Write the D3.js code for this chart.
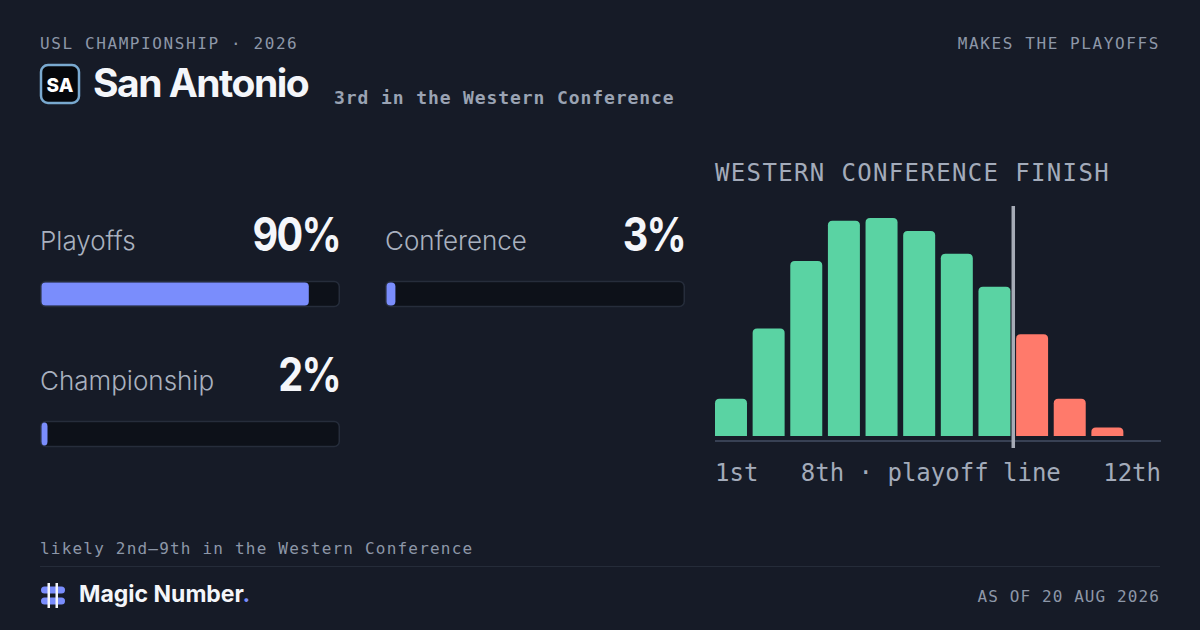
<!DOCTYPE html>
<html>
<head>
<meta charset="utf-8">
<script src="https://cdn.jsdelivr.net/npm/d3@7"></script>
<style>
  html, body { margin: 0; padding: 0; background: #161b27; }
  svg { display: block; }
  .mono { font-family: "DejaVu Sans Mono", "Liberation Mono", monospace; }
  .sans { font-family: Inter, "Noto Sans", sans-serif; }
</style>
</head>
<body>
<svg id="card" width="1200" height="630"></svg>
<script>
// --- data ---
var league = "USL CHAMPIONSHIP · 2026";
var status = "MAKES THE PLAYOFFS";
var team = "San Antonio";
var teamAbbr = "SA";
var standing = "3rd in the Western Conference";
var statLabels = ["Playoffs", "Conference", "Championship"];
var statValues = [90, 3, 2];
var finishPlaces = ["1st", "2nd", "3rd", "4th", "5th", "6th", "7th", "8th", "9th", "10th", "11th", "12th"];
var finishPct = [2.6, 7.5, 12.2, 15.0, 15.2, 14.3, 12.7, 10.4, 7.1, 2.6, 0.6, 0.0];
var playoffCut = 8; // top 8 make it
var finishTitle = "WESTERN CONFERENCE FINISH";
var axisLabels = ["1st", "8th · playoff line", "12th"];
var likely = "likely 2nd–9th in the Western Conference";
var asOf = "AS OF 20 AUG 2026";

var svg = d3.select("#card");

svg.append("rect").attr("width", 1200).attr("height", 630).attr("fill", "#161b27");

// header
svg.append("text").attr("class", "mono")
  .attr("x", 40).attr("y", 49)
  .attr("font-size", 16).attr("letter-spacing", 1.6)
  .attr("fill", "#8d97a8")
  .text(league);

svg.append("text").attr("class", "mono")
  .attr("x", 1160).attr("y", 49)
  .attr("text-anchor", "end")
  .attr("font-size", 16).attr("letter-spacing", 1.6)
  .attr("fill", "#8d97a8")
  .text(status);

var badge = svg.append("g").attr("transform", "translate(41,65)");
badge.append("rect")
  .attr("width", 38).attr("height", 38).attr("rx", 7)
  .attr("fill", "#05070b").attr("stroke", "#79a9cf").attr("stroke-width", 2.5);
badge.append("text").attr("class", "sans")
  .attr("x", 19).attr("y", 26.5)
  .attr("text-anchor", "middle")
  .attr("font-size", 19).attr("font-weight", 800)
  .attr("fill", "#ffffff")
  .text(teamAbbr);

svg.append("text").attr("class", "sans")
  .attr("x", 93).attr("y", 97)
  .attr("font-size", 39).attr("font-weight", 700).attr("letter-spacing", -1.5)
  .attr("fill", "#f4f6fa")
  .text(team);

svg.append("text").attr("class", "mono")
  .attr("x", 334).attr("y", 104)
  .attr("font-size", 18).attr("font-weight", 700).attr("letter-spacing", 0.9)
  .attr("fill", "#9aa3b3")
  .text(standing);

// probability bars
var trackW = 300, trackH = 26;
var pct = d3.scaleLinear().domain([0, 100]).range([0, trackW - 3]);
var statPos = [[40, 250], [385, 250], [40, 390]];

statLabels.forEach(function(label, i) {
  var g = svg.append("g").attr("transform", "translate(" + statPos[i][0] + "," + statPos[i][1] + ")");
  g.append("text").attr("class", "sans")
    .attr("x", 0).attr("y", 0)
    .attr("font-size", 26).attr("font-weight", 300)
    .attr("fill", "#a9b1bf")
    .text(label);
  var num = g.append("text").attr("class", "sans")
    .attr("x", trackW).attr("y", 1)
    .attr("text-anchor", "end")
    .attr("font-size", 46).attr("font-weight", 700).attr("letter-spacing", -2)
    .attr("fill", "#f4f6fa")
    .text(statValues[i] + "%");
  // squeeze to a condensed look
  var w = num.node().getComputedTextLength();
  num.attr("textLength", w * 0.86).attr("lengthAdjust", "spacingAndGlyphs");
  g.append("rect")
    .attr("x", 0.75).attr("y", 31.5)
    .attr("width", trackW - 1.5).attr("height", trackH - 1)
    .attr("rx", 5)
    .attr("fill", "#0d1119").attr("stroke", "#262d3b").attr("stroke-width", 1.5);
  g.append("rect")
    .attr("x", 1.5).attr("y", 32.5)
    .attr("width", Math.max(pct(statValues[i]), 6)).attr("height", trackH - 3)
    .attr("rx", 4)
    .attr("fill", "#7a8dfc");
});

// finish distribution chart
svg.append("text").attr("class", "mono")
  .attr("x", 715).attr("y", 181)
  .attr("font-size", 24).attr("letter-spacing", 1.35)
  .attr("fill", "#a3abba")
  .text(finishTitle);

var x = d3.scaleBand().domain(finishPlaces).range([715, 1161]).paddingInner(0.15).paddingOuter(0);
var y = d3.scaleLinear().domain([0, d3.max(finishPct)]).range([436, 218]);

function topRounded(x0, y0, w, h, r) {
  if (h <= 0) return "";
  r = Math.min(r, h, w / 2);
  return "M" + x0 + "," + (y0 + h) +
    "V" + (y0 + r) +
    "Q" + x0 + "," + y0 + " " + (x0 + r) + "," + y0 +
    "H" + (x0 + w - r) +
    "Q" + (x0 + w) + "," + y0 + " " + (x0 + w) + "," + (y0 + r) +
    "V" + (y0 + h) + "Z";
}

svg.append("g").selectAll("path")
  .data(finishPct)
  .join("path")
  .attr("d", function(d, i) {
    return topRounded(x(finishPlaces[i]), y(d), x.bandwidth(), y(0) - y(d), 4.5);
  })
  .attr("fill", function(d, i) { return i < playoffCut ? "#5ad3a3" : "#ff7a6b"; });

svg.append("line")
  .attr("x1", 715).attr("x2", 1161)
  .attr("y1", 441).attr("y2", 441)
  .attr("stroke", "#384154").attr("stroke-width", 2);

var cutX = (x(finishPlaces[playoffCut - 1]) + x.bandwidth() + x(finishPlaces[playoffCut])) / 2;
svg.append("line")
  .attr("x1", cutX).attr("x2", cutX)
  .attr("y1", 206).attr("y2", 448)
  .attr("stroke", "#a6abb6").attr("stroke-width", 3.5);

// axis labels, spread left / middle / right
var axisG = svg.append("g").attr("class", "mono")
  .attr("font-size", 24).attr("fill", "#a3abba");
var lFirst = axisG.append("text").attr("x", x.range()[0]).attr("y", 481).text(axisLabels[0]);
var lLast = axisG.append("text").attr("x", x.range()[1]).attr("y", 481).attr("text-anchor", "end").text(axisLabels[2]);
var leftEnd = x.range()[0] + lFirst.node().getComputedTextLength();
var rightStart = x.range()[1] - lLast.node().getComputedTextLength();
axisG.append("text").attr("x", (leftEnd + rightStart) / 2).attr("y", 481)
  .attr("text-anchor", "middle").text(axisLabels[1]);

// footer
svg.append("text").attr("class", "mono")
  .attr("x", 40).attr("y", 554)
  .attr("font-size", 16).attr("letter-spacing", 1.2)
  .attr("fill", "#8d97a8")
  .text(likely);

svg.append("line")
  .attr("x1", 40).attr("x2", 1160)
  .attr("y1", 566.5).attr("y2", 566.5)
  .attr("stroke", "#252c39").attr("stroke-width", 1);

var mark = svg.append("g").attr("transform", "translate(40,583)");
mark.append("rect").attr("x", 1).attr("y", 3.5).attr("width", 24).attr("height", 7).attr("rx", 3.5).attr("fill", "#7a8dfc");
mark.append("rect").attr("x", 1).attr("y", 14.5).attr("width", 24).attr("height", 7).attr("rx", 3.5).attr("fill", "#7a8dfc");
mark.append("rect").attr("x", 7.5).attr("y", 0).attr("width", 2.5).attr("height", 25).attr("fill", "#f4f6fa");
mark.append("rect").attr("x", 15.5).attr("y", 0).attr("width", 2.5).attr("height", 25).attr("fill", "#f4f6fa");

var brand = svg.append("text").attr("class", "sans")
  .attr("x", 79).attr("y", 602)
  .attr("font-size", 23).attr("font-weight", 700).attr("letter-spacing", 0)
  .attr("fill", "#f4f6fa");
brand.append("tspan").text("Magic Number");
brand.append("tspan").attr("fill", "#7a8dfc").text(".");

svg.append("text").attr("class", "mono")
  .attr("x", 1160).attr("y", 602)
  .attr("text-anchor", "end")
  .attr("font-size", 16).attr("letter-spacing", 1.1)
  .attr("fill", "#8d97a8")
  .text(asOf);
</script>
</body>
</html>
